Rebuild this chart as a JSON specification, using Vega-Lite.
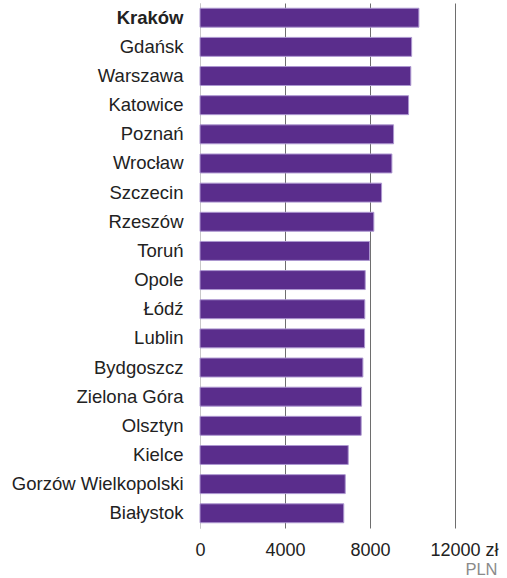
{
  "$schema": "https://vega.github.io/schema/vega-lite/v6.json",
  "width": 255,
  "height": 525,
  "autosize": {"type": "none"},
  "padding": {"left": 200, "top": 3, "right": 52, "bottom": 50},
  "background": "#ffffff",
  "data": {
    "values": [
      {"city": "Kraków", "value": 10300},
      {"city": "Gdańsk", "value": 9960},
      {"city": "Warszawa", "value": 9920},
      {"city": "Katowice", "value": 9815},
      {"city": "Poznań", "value": 9110},
      {"city": "Wrocław", "value": 9030},
      {"city": "Szczecin", "value": 8545},
      {"city": "Rzeszów", "value": 8180},
      {"city": "Toruń", "value": 7980},
      {"city": "Opole", "value": 7775},
      {"city": "Łódź", "value": 7755},
      {"city": "Lublin", "value": 7745},
      {"city": "Bydgoszcz", "value": 7665},
      {"city": "Zielona Góra", "value": 7605},
      {"city": "Olsztyn", "value": 7585},
      {"city": "Kielce", "value": 6975},
      {"city": "Gorzów Wielkopolski", "value": 6835},
      {"city": "Białystok", "value": 6765}
    ]
  },
  "mark": {"type": "bar", "fill": "#5a2d8c", "stroke": "#ad97d0", "strokeWidth": 1},
  "encoding": {
    "y": {
      "field": "city",
      "type": "nominal",
      "sort": null,
      "scale": {"paddingInner": 0.35, "paddingOuter": 0.18},
      "axis": {
        "title": null,
        "ticks": false,
        "domain": true,
        "domainColor": "#c8c8c8",
        "domainWidth": 1,
        "labelFont": "Liberation Sans",
        "labelFontSize": 18.5,
        "labelColor": "#222222",
        "labelPadding": 17,
        "labelFontWeight": {"condition": {"test": "datum.value === 'Kraków'", "value": "bold"}, "value": "normal"}
      }
    },
    "x": {
      "field": "value",
      "type": "quantitative",
      "scale": {"domain": [0, 12000], "nice": false},
      "axis": {
        "values": [0, 4000, 8000, 12000],
        "grid": true,
        "gridColor": {"condition": {"test": "datum.value === 0", "value": "#c8c8c8"}, "value": "#6e6e6e"},
        "gridWidth": 1,
        "domain": false,
        "ticks": false,
        "format": "d",
        "labelExpr": "datum.value === 12000 ? '12000 zł' : datum.label",
        "labelOffset": {"condition": {"test": "datum.value === 12000", "value": 9}, "value": 0},
        "labelFont": "Liberation Sans",
        "labelFontSize": 18,
        "labelColor": "#222222",
        "labelBaseline": "alphabetic",
        "labelPadding": 27,
        "labelFlush": false,
        "labelOverlap": false,
        "title": "PLN",
        "titleFont": "Liberation Sans",
        "titleFontSize": 16.5,
        "titleFontWeight": "normal",
        "titleColor": "#8a8a8a",
        "titleAlign": "right",
        "titleAnchor": "end",
        "titleBaseline": "alphabetic",
        "titleX": 297,
        "titleY": 46
      }
    }
  },
  "config": {"view": {"stroke": null}}
}
